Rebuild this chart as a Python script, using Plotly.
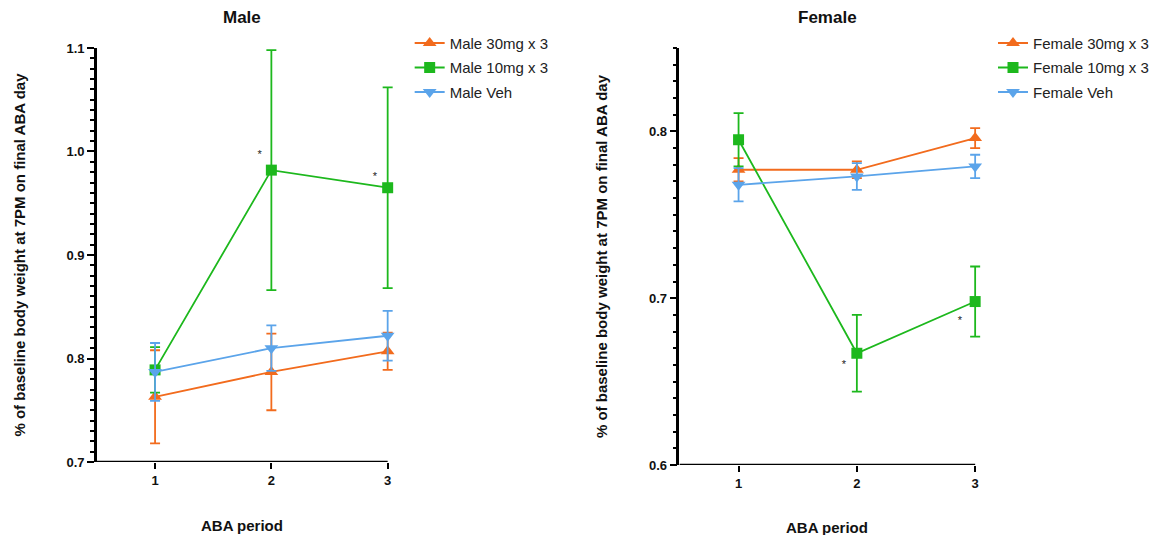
import plotly.graph_objects as go

# ABA periods (x positions)
periods = [1, 2, 3]

# Male groups: mean and error (SEM) per period
male_30_mean = [0.763, 0.787, 0.807]
male_30_err = [0.045, 0.037, 0.018]
male_10_mean = [0.789, 0.982, 0.965]
male_10_err = [0.022, 0.116, 0.097]
male_veh_mean = [0.787, 0.810, 0.822]
male_veh_err = [0.028, 0.022, 0.024]

# Female groups: mean and error (SEM) per period
female_30_mean = [0.777, 0.777, 0.796]
female_30_err = [0.007, 0.005, 0.006]
female_10_mean = [0.795, 0.667, 0.698]
female_10_err = [0.016, 0.023, 0.021]
female_veh_mean = [0.768, 0.773, 0.779]
female_veh_err = [0.010, 0.008, 0.007]

# Significance markers (x, y) per panel
male_stars_x = [1.90, 2.89]
male_stars_y = [0.996, 0.975]
female_stars_x = [1.89, 2.87]
female_stars_y = [0.660, 0.686]

ORANGE = "#F26B1D"
GREEN = "#1DB81D"
BLUE = "#5BA4EA"
FONT = "Liberation Sans, Arial, sans-serif"

# x axis runs a little past 3 so the end caps are not clipped;
# the visible baseline is drawn only from 0.5 to 3
X_START, X_END, X_PAD = 0.5, 3.0, 3.07
MALE_Y = [0.7, 1.1]
FEMALE_Y = [0.6, 0.85]

fig = go.Figure()


def add_group(name, means, errs, color, symbol, xa, ya, legend):
    fig.add_trace(go.Scatter(
        x=periods, y=means, name=name, mode="lines+markers",
        legendgroup=name, cliponaxis=False,
        line=dict(color=color, width=1.8),
        marker=dict(color=color, symbol=symbol, size=11 if symbol == "square" else 12),
        error_y=dict(type="data", array=errs, visible=True, color=color,
                     thickness=1.8, width=5),
        xaxis=xa, yaxis=ya, legend=legend,
    ))


add_group("Male 30mg x 3", male_30_mean, male_30_err, ORANGE, "triangle-up", "x", "y", "legend")
add_group("Male 10mg x 3", male_10_mean, male_10_err, GREEN, "square", "x", "y", "legend")
add_group("Male Veh", male_veh_mean, male_veh_err, BLUE, "triangle-down", "x", "y", "legend")

add_group("Female 30mg x 3", female_30_mean, female_30_err, ORANGE, "triangle-up", "x2", "y2", "legend2")
add_group("Female 10mg x 3", female_10_mean, female_10_err, GREEN, "square", "x2", "y2", "legend2")
add_group("Female Veh", female_veh_mean, female_veh_err, BLUE, "triangle-down", "x2", "y2", "legend2")

# Asterisks marking significant differences
fig.add_trace(go.Scatter(x=male_stars_x, y=male_stars_y, mode="text", text=["*", "*"],
                         textfont=dict(size=11, color="#222", family=FONT), cliponaxis=False,
                         showlegend=False, hoverinfo="skip", xaxis="x", yaxis="y"))
fig.add_trace(go.Scatter(x=female_stars_x, y=female_stars_y, mode="text", text=["*", "*"],
                         textfont=dict(size=11, color="#222", family=FONT), cliponaxis=False,
                         showlegend=False, hoverinfo="skip", xaxis="x2", yaxis="y2"))

ytitle = "% of baseline body weight at 7PM on final ABA day"

xaxis_common = dict(
    range=[X_START, X_PAD], tickvals=periods, ticktext=["1", "2", "3"],
    showline=False, ticks="outside",
    ticklen=6, tickwidth=2, tickcolor="black", showgrid=False, zeroline=False,
    automargin=False,
    tickfont=dict(family=FONT, size=13, color="#111", weight="bold"),
)
yaxis_common = dict(
    showline=True, linecolor="black", linewidth=2.5, ticks="outside",
    ticklen=7, tickwidth=2, tickcolor="black", showgrid=False, zeroline=False,
    automargin=False,
    tickfont=dict(family=FONT, size=13, color="#111", weight="bold"),
    minor=dict(dtick=0.01, ticks="outside", ticklen=4, tickwidth=1.5, tickcolor="black",
               showgrid=False),
    title=dict(text="<b>" + ytitle + "</b>", font=dict(family=FONT, size=15, color="#111"),
               standoff=38),
)

legend_common = dict(
    yanchor="top", xanchor="left",
    font=dict(family=FONT, size=15, color="#222"),
    bgcolor="rgba(0,0,0,0)", tracegroupgap=2, itemwidth=30,
)

# pixel positions of x=0.5 and x=3 on each panel
W, H = 1154, 535
L0, L3 = 97, 388
R0, R3 = 680, 976
lx1 = L0 + (L3 - L0) * (X_PAD - X_START) / (X_END - X_START)
rx1 = R0 + (R3 - R0) * (X_PAD - X_START) / (X_END - X_START)


def label(text, xpx, ypx, size):
    return dict(text="<b>" + text + "</b>", x=xpx / W, y=1 - ypx / H, xref="paper", yref="paper",
                xanchor="center", yanchor="middle", showarrow=False,
                font=dict(family=FONT, size=size, color="#111"))


fig.update_layout(
    width=W, height=H,
    margin=dict(l=0, r=0, t=0, b=0),
    paper_bgcolor="white", plot_bgcolor="white",
    font=dict(family=FONT),
    showlegend=True,
    xaxis=dict(domain=[L0 / W, lx1 / W], anchor="y", **xaxis_common),
    yaxis=dict(domain=[0.1364, 0.9103], anchor="x", range=MALE_Y,
               tickvals=[0.7, 0.8, 0.9, 1.0, 1.1],
               ticktext=["0.7", "0.8", "0.9", "1.0", "1.1"], **yaxis_common),
    xaxis2=dict(domain=[R0 / W, rx1 / W], anchor="y2", **xaxis_common),
    yaxis2=dict(domain=[0.1308, 0.9103], anchor="x2", range=FEMALE_Y,
                tickvals=[0.6, 0.7, 0.8], ticktext=["0.6", "0.7", "0.8"], **yaxis_common),
    legend=dict(x=0.355, y=0.95, **legend_common),
    legend2=dict(x=0.861, y=0.95, **legend_common),
    shapes=[
        dict(type="line", xref="x", yref="y", x0=X_START, x1=X_END, y0=MALE_Y[0], y1=MALE_Y[0],
             line=dict(color="black", width=2.5)),
        dict(type="line", xref="x2", yref="y2", x0=X_START, x1=X_END, y0=FEMALE_Y[0], y1=FEMALE_Y[0],
             line=dict(color="black", width=2.5)),
    ],
    annotations=[
        label("Male", (L0 + L3) / 2, 17, 17),
        label("Female", (R0 + R3) / 2, 17, 17),
        label("ABA period", (L0 + L3) / 2, 525, 15),
        label("ABA period", (R0 + R3) / 2, 527, 15),
    ],
)

fig.write_html("out.html")
